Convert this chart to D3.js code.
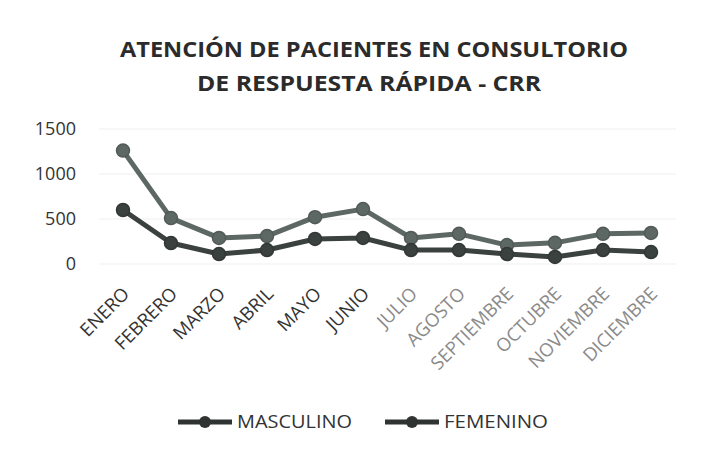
<html>
<head>
<script src="https://d3js.org/d3.v7.min.js"></script>
<style>
body { margin: 0; background: #fff; }
svg { display: block; }
</style>
</head>
<body>
<svg id="chart" width="701" height="454"></svg>
<script>
// data
var months = ["ENERO", "FEBRERO", "MARZO", "ABRIL", "MAYO", "JUNIO", "JULIO",
  "AGOSTO", "SEPTIEMBRE", "OCTUBRE", "NOVIEMBRE", "DICIEMBRE"];
var masculino = [600, 233, 111, 155, 278, 289, 155, 155, 111, 78, 155, 133];
var femenino = [1260, 510, 290, 310, 520, 610, 290, 335, 210, 235, 335, 345];
var yTicks = [0, 500, 1000, 1500];
var seriesNames = ["MASCULINO", "FEMENINO"];

var width = 701, height = 454;
var svg = d3.select("#chart");

svg.append("rect").attr("width", width).attr("height", height).attr("fill", "#fff");

var xScale = d3.scalePoint().domain(months).range([123, 651]);
var yScale = d3.scaleLinear().domain([0, 1500]).range([264, 129]);

// gridlines
svg.append("g").selectAll("line").data(yTicks).enter().append("line")
  .attr("x1", 99).attr("x2", 676)
  .attr("y1", function(d) { return yScale(d); })
  .attr("y2", function(d) { return yScale(d); })
  .attr("stroke", "#efefef").attr("stroke-width", 1);

// title
var title = svg.append("g").attr("font-family", "'Open Sans', sans-serif")
  .attr("font-weight", "bold").attr("font-size", 22).attr("fill", "#2b2b2b")
  .attr("text-anchor", "middle");
title.append("text").attr("x", 374).attr("y", 57)
  .attr("textLength", 508).attr("lengthAdjust", "spacingAndGlyphs")
  .text("ATENCIÓN DE PACIENTES EN CONSULTORIO");
title.append("text").attr("x", 369).attr("y", 91)
  .attr("textLength", 344).attr("lengthAdjust", "spacingAndGlyphs")
  .text("DE RESPUESTA RÁPIDA - CRR");

// y axis
var yAxis = d3.axisLeft(yScale).tickValues(yTicks).tickSize(0).tickPadding(0)
  .tickFormat(d3.format("d"));
var yg = svg.append("g").attr("transform", "translate(76,0)").call(yAxis);
yg.select(".domain").remove();
yg.selectAll("text").attr("font-family", "'Open Sans', sans-serif")
  .attr("font-size", 18).attr("fill", "#333");

// x axis
var xAxis = d3.axisBottom(xScale).tickSize(0).tickPadding(0);
var xg = svg.append("g").attr("transform", "translate(0,280)").call(xAxis);
xg.select(".domain").remove();
xg.selectAll("text")
  .attr("font-family", "'Open Sans', sans-serif")
  .attr("font-size", 18.5)
  .attr("fill", function(d, i) { return i < 6 ? "#333" : "#8a8a8a"; })
  .attr("text-anchor", "end")
  .attr("y", 0)
  .attr("dy", 0)
  .attr("transform", "translate(7,15) rotate(-45)");

var colors = ["#3a413e", "#5d6864"];
var line = d3.line()
  .x(function(d, i) { return xScale(months[i]); })
  .y(function(d) { return yScale(d); });

[femenino, masculino].forEach(function(vals) {
  var c = vals === masculino ? colors[0] : colors[1];
  svg.append("path").datum(vals)
    .attr("d", line).attr("fill", "none")
    .attr("stroke", c).attr("stroke-width", 5)
    .attr("stroke-linejoin", "round");
  svg.append("g").selectAll("circle").data(vals).enter().append("circle")
    .attr("cx", function(d, i) { return xScale(months[i]); })
    .attr("cy", function(d) { return yScale(d); })
    .attr("r", 6.5)
    .attr("fill", c).attr("stroke", d3.color(c).darker(0.4)).attr("stroke-width", 1.5);
});

// legend
var legX = [178, 385];
var legW = [115, 104];
seriesNames.forEach(function(name, i) {
  var g = svg.append("g").attr("transform", "translate(" + legX[i] + ",422)");
  g.append("line").attr("x1", 0).attr("x2", 54).attr("y1", 0).attr("y2", 0)
    .attr("stroke", "#2f3331").attr("stroke-width", 5);
  g.append("circle").attr("cx", 27).attr("cy", 0).attr("r", 6).attr("fill", "#2f3331");
  g.append("text").attr("x", 59).attr("y", 0).attr("dy", "0.35em")
    .attr("font-family", "'Open Sans', sans-serif").attr("font-size", 18)
    .attr("textLength", legW[i]).attr("lengthAdjust", "spacingAndGlyphs")
    .attr("fill", "#333").text(name);
});
</script>
</body>
</html>
